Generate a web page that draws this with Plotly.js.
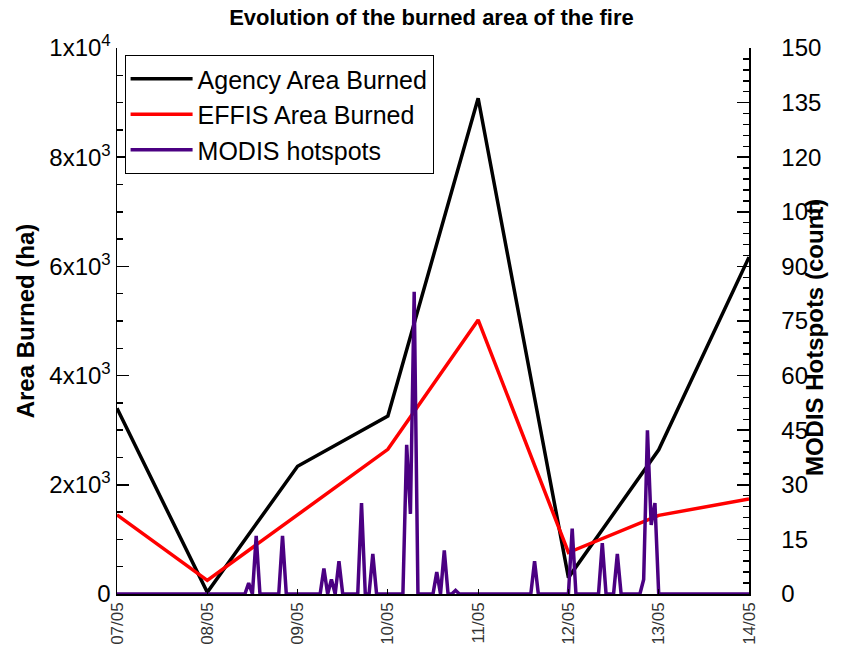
<!DOCTYPE html>
<html>
<head>
<meta charset="utf-8">
<script src="https://cdn.plot.ly/plotly-3.0.1.min.js"></script>
<style>html,body{margin:0;padding:0;background:#fff;}</style>
</head>
<body>
<div id="chart" style="width:846px;height:659px;"></div>
<script>
// Daily burned area (ha)
const agencyDates = ['2023-05-07','2023-05-08','2023-05-09','2023-05-10','2023-05-11','2023-05-12','2023-05-13','2023-05-14'];
const agencyArea  = [3400, 30, 2340, 3260, 9080, 300, 2640, 6170];

const effisDates = ['2023-05-07','2023-05-08','2023-05-10','2023-05-11','2023-05-12','2023-05-13','2023-05-14'];
const effisArea  = [1450, 250, 2650, 5020, 760, 1440, 1740];

// MODIS hotspot counts (hourly, zeros around detections)
const modisTimes = [
 '2023-05-07 00:00',
 '2023-05-08 10:00','2023-05-08 11:00','2023-05-08 12:00','2023-05-08 13:00','2023-05-08 14:00',
 '2023-05-08 19:00','2023-05-08 20:00','2023-05-08 21:00',
 '2023-05-09 06:00','2023-05-09 07:00','2023-05-09 08:00','2023-05-09 09:00','2023-05-09 10:00','2023-05-09 11:00','2023-05-09 12:00',
 '2023-05-09 16:00','2023-05-09 17:00','2023-05-09 18:00',
 '2023-05-09 19:00','2023-05-09 20:00','2023-05-09 21:00',
 '2023-05-10 04:00','2023-05-10 05:00','2023-05-10 06:00','2023-05-10 07:00','2023-05-10 08:00',
 '2023-05-10 12:00','2023-05-10 13:00','2023-05-10 14:00','2023-05-10 15:00','2023-05-10 16:00',
 '2023-05-10 17:00','2023-05-10 18:00','2023-05-10 19:00',
 '2023-05-11 14:00','2023-05-11 15:00','2023-05-11 16:00',
 '2023-05-12 00:00','2023-05-12 01:00','2023-05-12 02:00',
 '2023-05-12 08:00','2023-05-12 09:00','2023-05-12 10:00',
 '2023-05-12 12:00','2023-05-12 13:00','2023-05-12 14:00',
 '2023-05-12 19:00','2023-05-12 20:00','2023-05-12 21:00','2023-05-12 22:00','2023-05-12 23:00','2023-05-13 00:00',
 '2023-05-14 00:00'
];
const modisCounts = [
 0,
 0,3,0,16,0,
 0,16,0,
 0,7,0,4,0,9,0,
 0,25,0,
 0,11,0,
 0,41,22,83,0,
 0,6,0,12,0,
 0,1,0,
 0,9,0,
 0,18,0,
 0,14,0,
 0,11,0,
 0,4,45,19,25,0,
 0
];

const yTickVals = [0, 2000, 4000, 6000, 8000, 10000];
const yTickText = ['0', '2x10<sup>3</sup>', '4x10<sup>3</sup>', '6x10<sup>3</sup>', '8x10<sup>3</sup>', '1x10<sup>4</sup>'];
const y2TickVals = [0, 15, 30, 45, 60, 75, 90, 105, 120, 135, 150];

const traces = [
  {x: agencyDates, y: agencyArea, name: 'Agency Area Burned', type: 'scatter', mode: 'lines',
   line: {color: '#000000', width: 3.5}, yaxis: 'y'},
  {x: effisDates, y: effisArea, name: 'EFFIS Area Burned', type: 'scatter', mode: 'lines',
   line: {color: '#ff0000', width: 3.5}, yaxis: 'y'},
  {x: modisTimes, y: modisCounts, name: 'MODIS hotspots', type: 'scatter', mode: 'lines',
   line: {color: '#4b0082', width: 3.5}, yaxis: 'y2'}
];

const FAM = 'Liberation Sans, Arial, sans-serif';
const bigFont = {family: FAM, size: 24, color: '#000'};

const layout = {
  width: 846, height: 659,
  margin: {l: 117, r: 97, t: 48, b: 65, pad: 0},
  paper_bgcolor: '#fff', plot_bgcolor: '#fff',
  title: {text: '<b>Evolution of the burned area of the fire</b>', font: {family: FAM, size: 22, color: '#000'},
          x: 0.51, xanchor: 'center', y: 0.973, yanchor: 'middle'},
  showlegend: true,
  legend: {x: 0.012, y: 0.987, xanchor: 'left', yanchor: 'top',
           bgcolor: '#fff', bordercolor: '#000', borderwidth: 1,
           font: {family: FAM, size: 25, color: '#000'},
           itemwidth: 62, tracegroupgap: 0},
  xaxis: {
    type: 'date', range: ['2023-05-07', '2023-05-14'],
    dtick: 86400000, tick0: '2023-05-07', tickformat: '%d/%m', tickangle: -90,
    ticks: 'inside', ticklen: 5, tickcolor: '#000',
    showgrid: false, zeroline: false, showline: true, linecolor: '#000', linewidth: 1.5,
    tickfont: {family: FAM, size: 17, color: '#333'}
  },
  yaxis: {
    range: [0, 10000],
    tickvals: yTickVals,
    ticktext: yTickText,
    ticks: 'inside', ticklen: 12, tickcolor: '#000', tickwidth: 1.5,
    minor: {dtick: 500, ticks: 'inside', ticklen: 6, tickcolor: '#000', showgrid: false},
    showgrid: false, zeroline: false, showline: true, linecolor: '#000', linewidth: 1.5,
    tickfont: bigFont,
    title: {text: '<b>Area Burned (ha)</b>', font: {family: FAM, size: 24, color: '#000'}, standoff: 8}
  },
  yaxis2: {
    overlaying: 'y', side: 'right', range: [0, 150],
    tickvals: y2TickVals,
    ticks: 'inside', ticklen: 12, tickcolor: '#000', tickwidth: 1.5,
    minor: {dtick: 3, ticks: 'inside', ticklen: 6, tickcolor: '#000', showgrid: false},
    showgrid: false, zeroline: false, showline: true, linecolor: '#000', linewidth: 1.5,
    tickfont: bigFont, ticklabelstandoff: 26
  },
  annotations: [{
    text: '<b>MODIS Hotspots (count)</b>', textangle: -90,
    xref: 'paper', yref: 'paper', x: 1.104, y: 0.47, xanchor: 'center', yanchor: 'middle',
    showarrow: false, font: {family: FAM, size: 24, color: '#000'}
  }]
};

Plotly.newPlot('chart', traces, layout, {displayModeBar: false, staticPlot: true});
</script>
</body>
</html>
